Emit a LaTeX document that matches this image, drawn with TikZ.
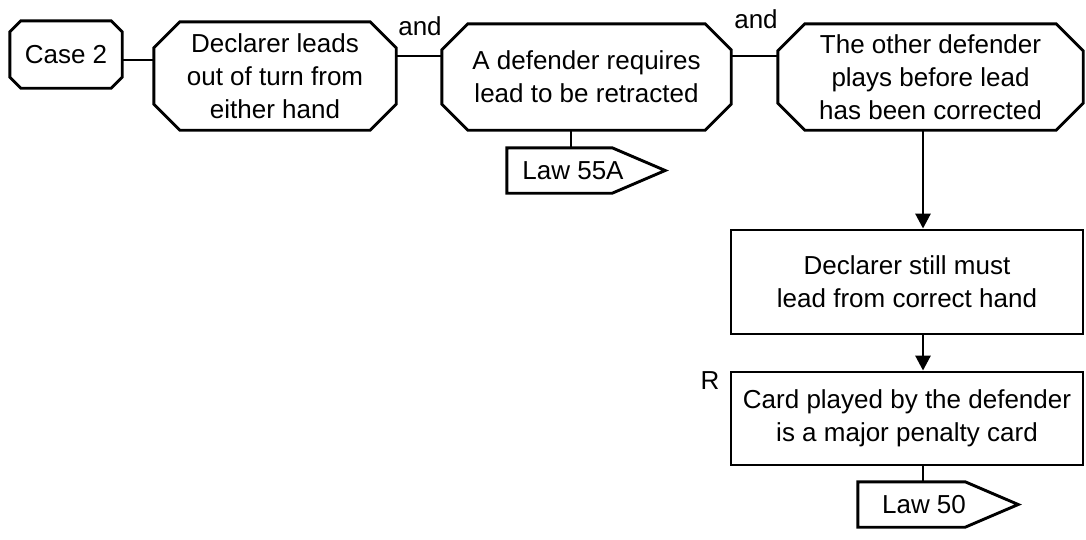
\documentclass[tikz,border=0pt]{standalone}
\usepackage{fontspec}
\setmainfont{Liberation Sans}
\usetikzlibrary{arrows.meta}
\newcommand\octodraw[2]{%
  \draw[boxline] ([xshift=#2]#1.north west) -- ([xshift=-#2]#1.north east) -- ([yshift=-#2]#1.north east) -- ([yshift=#2]#1.south east) -- ([xshift=-#2]#1.south east) -- ([xshift=#2]#1.south west) -- ([yshift=#2]#1.south west) -- ([yshift=-#2]#1.north west) -- cycle;}
\newcommand\tagdraw[2]{%
  \draw[boxline] (#1.north west) -- ([xshift=-#2]#1.north east) -- (#1.east) -- ([xshift=-#2]#1.south east) -- (#1.south west) -- cycle;}
\tikzset{
  boxline/.style={line width=2.9pt, line join=miter},
  region/.style={rectangle, draw=none, inner sep=0pt, align=center, font=\fontsize{26}{33}\selectfont},
  rectbox/.style={region, draw, line width=2.9pt},
  conn/.style={line width=2.9pt},
  arr/.style={line width=2.9pt, -{Triangle[length=15pt,width=15pt]}},
  lbl/.style={inner sep=0pt, font=\fontsize{26}{33}\selectfont}
}
\begin{document}
\begin{tikzpicture}[x=1pt,y=-1pt]
\useasboundingbox (0,0) rectangle (1086,539);
\node[region, minimum width=112pt, minimum height=67pt] (case) at (66,54.5) {Case 2};
\node[region, minimum width=242pt, minimum height=108pt] (decl) at (275,76) {Declarer leads\\out of turn from\\either hand};
\node[region, minimum width=289pt, minimum height=106pt] (adef) at (586.5,77) {A defender requires\\lead to be retracted};
\node[region, minimum width=305pt, minimum height=106pt] (other) at (930.5,77) {The other defender\\plays before lead\\has been corrected};
\node[rectbox, minimum width=352pt, minimum height=104pt] (still) at (907,282) {Declarer still must\\lead from correct hand};
\node[rectbox, minimum width=352pt, minimum height=93pt] (card) at (907,418.5) {Card played by the defender\\is a major penalty card};
\node[region, minimum width=158pt, minimum height=45pt] (law55) at (586,170.5) {\hspace*{-26pt}Law 55A};
\node[region, minimum width=160pt, minimum height=45pt] (law50) at (938,504.5) {\hspace*{-28pt}Law 50};
\octodraw{case}{11}
\octodraw{decl}{26}
\octodraw{adef}{26}
\octodraw{other}{27}
\tagdraw{law55}{53}
\tagdraw{law50}{53}
\node[lbl] (and1) at (420,26) {and};
\node[lbl] (and2) at (756,19) {and};
\node[lbl] (rlab) at (710,381) {R};
\draw[conn] (case.east |- 0,60) -- (decl.west |- 0,60);
\draw[conn] (decl.east |- 0,56) -- (adef.west |- 0,56);
\draw[conn] (adef.east |- 0,56) -- (other.west |- 0,56);
\draw[conn] (adef.south -| 571,0) -- (law55.north -| 571,0);
\draw[arr] (other.south -| 923,0) -- (still.north -| 923,0);
\draw[arr] (still.south -| 923,0) -- (card.north -| 923,0);
\draw[conn] (card.south -| 923,0) -- (law50.north -| 923,0);
\end{tikzpicture}
\end{document}
